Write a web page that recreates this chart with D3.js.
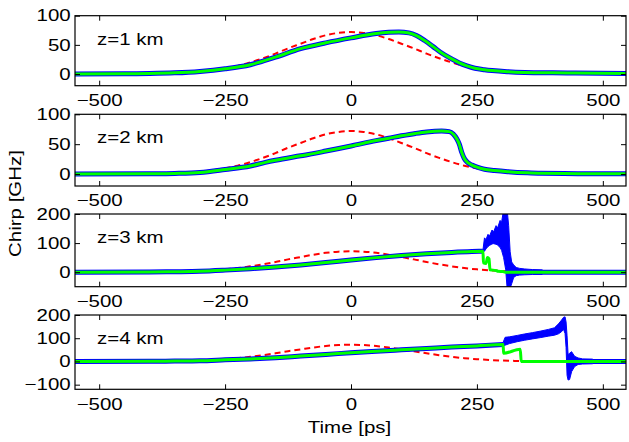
<!DOCTYPE html>
<html>
<head>
<meta charset="utf-8">
<script src="https://cdn.jsdelivr.net/npm/d3@7"></script>
<style>
  body { margin: 0; background: white; }
  svg { display: block; }
</style>
</head>
<body>
<svg id="chart"></svg>
<script>
const width = 629;
const height = 442;

// distances along the fibre, one panel each
const distancesKm = [1, 2, 3, 4];
const yLimits = [[-20, 100], [-20, 100], [-50, 200], [-120, 200]];
const yTicks = [[0, 50, 100], [0, 50, 100], [0, 100, 200], [-100, 0, 100, 200]];
const xLimits = [-548, 546];
const xTicks = [-500, -250, 0, 250, 500];

// input chirp (red dashed), same in every panel  [t ps, GHz]
const inputChirp = [
  [-548, 0], [-450, 0], [-400, 0.4], [-375, 0.8], [-350, 1.3], [-325, 2.4], [-300, 4],
  [-275, 6.4], [-250, 9.7], [-225, 14], [-200, 20], [-175, 27], [-150, 35], [-125, 44],
  [-100, 52], [-75, 60], [-50, 66.5], [-25, 70.5], [0, 72], [25, 70.5], [50, 66.5],
  [75, 60], [100, 52], [125, 44], [150, 35], [175, 27], [200, 20], [225, 14], [250, 9.7],
  [275, 6.4], [300, 4], [325, 2.4], [350, 1.3], [375, 0.8], [400, 0.4], [450, 0], [546, 0]
];

// z = 1 km and 2 km: blue and green lie on top of each other
const chirpZ1 = [
  [-548, 0], [-450, 0.3], [-400, 0.8], [-350, 2], [-300, 4.5], [-250, 9], [-200, 16],
  [-150, 29], [-100, 43.5], [-50, 53.5], [0, 62], [50, 69.5], [75, 71.5], [95, 72],
  [115, 70.5], [130, 66], [147, 57], [163, 47], [180, 36], [200, 26], [215, 19], [230, 14],
  [246, 10], [265, 7.5], [280, 6], [310, 4], [345, 2.7], [400, 2], [445, 1.7], [546, 1]
];
const chirpZ2 = [
  [-548, 0], [-400, 0.5], [-350, 1], [-300, 2.5], [-250, 7.5], [-200, 13.5], [-170, 19.5],
  [-150, 23], [-100, 30.5], [-70, 35], [-50, 38.5], [0, 47], [50, 56], [75, 60], [100, 64],
  [128, 68], [150, 70.5], [180, 72], [195, 71], [203, 67], [210, 59], [215, 50], [220, 36],
  [225, 26], [232, 19], [240, 15], [252, 11], [265, 8], [285, 6], [311, 4], [350, 2],
  [377, 1.2], [450, 0.7], [546, 0.5]
];

// z = 3 km and 4 km: common part before the shock
const chirpZ3 = [
  [-548, 0], [-400, 0.5], [-350, 1.5], [-300, 3], [-250, 7], [-200, 12], [-150, 18],
  [-100, 25], [-50, 33], [0, 42], [50, 50], [100, 57], [150, 63], [200, 68], [240, 71], [262, 72]
];
const chirpZ4 = [
  [-548, 0], [-400, 0.5], [-350, 1.5], [-300, 3], [-250, 7], [-200, 11], [-150, 16],
  [-100, 23], [-50, 30], [0, 37.5], [50, 44], [100, 50], [150, 56], [200, 62], [250, 67], [302, 73]
];

// green tails after the shock
const greenTailZ3 = [
  [262, 72], [263, 32], [268, 30], [271, 50], [274, 46], [276, 8], [288, 6], [292, 3],
  [302, 2], [306, 0], [546, 0]
];
const greenTailZ4 = [[302, 73], [303, 35], [336, 53], [338, 0], [546, 0]];

// blue oscillation envelopes after the shock  [t, low, high]
const blueBandZ3 = [
  [262, 68, 76], [265, 72, 118], [268, 80, 112], [272, 88, 130], [275, 92, 124],
  [280, 97, 145], [283, 98, 138], [288, 96, 160], [291, 93, 152], [296, 85, 178],
  [299, 75, 172], [303, 50, 215], [307, 10, 215], [310, -55, 215], [313, -55, 160],
  [316, -55, 70], [319, -40, 35], [323, -18, 25], [328, -12, 16], [335, -10, 13],
  [345, -9, 11], [360, -8, 9], [380, -8, 8]
];
const blueBandZ4 = [
  [302, 64, 82], [306, 70, 104], [315, 77, 106], [330, 85, 112], [344, 91, 118],
  [360, 97, 124], [377, 103, 131], [392, 109, 138], [404, 113, 145], [412, 119, 162],
  [418, 128, 178], [422, 138, 190], [425, 120, 192], [427, 60, 170], [429, -60, 110],
  [431, -80, 30], [434, -78, 35], [438, -44, 42], [444, -22, 22], [451, -13, 15],
  [460, -11, 11], [480, -10, 10]
];
const blueRestZ3 = [[380, 0], [546, 0]];
const blueRestZ4 = [[480, 0], [546, 0]];

const panels = [
  { blue: [chirpZ1], green: chirpZ1, band: null },
  { blue: [chirpZ2], green: chirpZ2, band: null },
  { blue: [chirpZ3, blueRestZ3], green: chirpZ3.concat(greenTailZ3), band: blueBandZ3 },
  { blue: [chirpZ4, blueRestZ4], green: chirpZ4.concat(greenTailZ4), band: blueBandZ4 }
];

const left = 75, right = 626;
const tops = [15.7, 114.3, 214, 315];
const bottoms = [85.7, 186, 286.7, 389.3];
const fontFamily = "'Liberation Sans', Arial, Helvetica, sans-serif";
const fontSize = 16.5;
const stretch = 1.24;

const svg = d3.select('#chart')
  .attr('width', width)
  .attr('height', height);

const x = d3.scaleLinear().domain(xLimits).range([left, right]);

panels.forEach((panel, i) => {
  const top = tops[i], bottom = bottoms[i];
  const y = d3.scaleLinear().domain(yLimits[i]).range([bottom, top]);
  const g = svg.append('g');

  g.append('clipPath').attr('id', 'clip' + i)
    .append('rect')
    .attr('x', left).attr('y', top)
    .attr('width', right - left).attr('height', bottom - top);

  const plot = g.append('g').attr('clip-path', 'url(#clip' + i + ')');

  const line = d3.line()
    .x(d => x(d[0]))
    .y(d => y(d[1]))
    .curve(d3.curveMonotoneX);

  plot.append('path')
    .datum(inputChirp)
    .attr('d', line)
    .attr('fill', 'none')
    .attr('stroke', '#ff0000')
    .attr('stroke-width', 2)
    .attr('stroke-dasharray', '6,4');

  plot.selectAll('.blue')
    .data(panel.blue)
    .enter().append('path')
      .attr('class', 'blue')
      .attr('d', line)
      .attr('fill', 'none')
      .attr('stroke', '#0000ff')
      .attr('stroke-width', 5);

  if (panel.band) {
    const area = d3.area()
      .x(d => x(d[0]))
      .y0(d => y(d[1]))
      .y1(d => y(d[2]))
      .curve(d3.curveLinear);
    plot.append('path')
      .datum(panel.band)
      .attr('d', area)
      .attr('fill', '#0000ff')
      .attr('stroke', '#0000ff')
      .attr('stroke-width', 1);
  }

  plot.append('path')
    .datum(panel.green)
    .attr('d', line)
    .attr('fill', 'none')
    .attr('stroke', '#00ff00')
    .attr('stroke-width', 3);

  // axes with inward ticks, mirrored on top and right
  const styleAxis = a => {
    a.select('.domain').remove();
    a.attr('font-size', fontSize).attr('font-family', fontFamily);
    a.selectAll('text').attr('fill', 'black').attr('transform', `scale(${stretch},1)`);
    a.selectAll('line').attr('stroke', 'black');
  };

  g.append('g')
    .attr('transform', `translate(0,${bottom})`)
    .call(d3.axisBottom(x).tickValues(xTicks).tickSizeInner(-5).tickSizeOuter(0).tickPadding(8.5))
    .call(styleAxis);
  g.append('g')
    .attr('transform', `translate(0,${top})`)
    .call(d3.axisTop(x).tickValues(xTicks).tickSizeInner(-5).tickSizeOuter(0).tickFormat(''))
    .call(styleAxis);
  g.append('g')
    .attr('transform', `translate(${left},0)`)
    .call(d3.axisLeft(y).tickValues(yTicks[i]).tickSizeInner(-5).tickSizeOuter(0).tickPadding(3.5))
    .call(styleAxis);
  g.append('g')
    .attr('transform', `translate(${right},0)`)
    .call(d3.axisRight(y).tickValues(yTicks[i]).tickSizeInner(-5).tickSizeOuter(0).tickFormat(''))
    .call(styleAxis);

  g.append('rect')
    .attr('x', left).attr('y', top)
    .attr('width', right - left).attr('height', bottom - top)
    .attr('fill', 'none')
    .attr('stroke', 'black')
    .attr('stroke-width', 1.2);

  g.append('text')
    .attr('transform', `translate(${left + 22},${top + 29}) scale(${stretch},1)`)
    .attr('font-size', fontSize)
    .attr('font-family', fontFamily)
    .text('z=' + distancesKm[i] + ' km');
});

svg.append('text')
  .attr('transform', `translate(21,203.5) rotate(-90) scale(${stretch},1)`)
  .attr('text-anchor', 'middle')
  .attr('font-size', fontSize)
  .attr('font-family', fontFamily)
  .text('Chirp [GHz]');

svg.append('text')
  .attr('transform', `translate(349.5,433) scale(${stretch},1)`)
  .attr('text-anchor', 'middle')
  .attr('font-size', fontSize)
  .attr('font-family', fontFamily)
  .text('Time [ps]');
</script>
</body>
</html>
